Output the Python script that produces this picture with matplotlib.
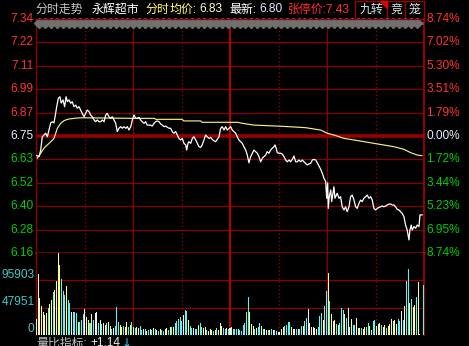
import numpy as np
import matplotlib
matplotlib.use("Agg")
import matplotlib.pyplot as plt
from matplotlib.patches import Rectangle, Polygon

plt.rcParams['font.family'] = ['Liberation Sans', 'Noto Sans CJK SC', 'DejaVu Sans']

# ---------------- data ----------------
prev_close = 6.75
price_labels = ["7.34", "7.22", "7.11", "6.99", "6.87", "6.75", "6.63", "6.52", "6.40", "6.28", "6.16"]
pct_labels = ["8.74%", "7.02%", "5.30%", "3.51%", "1.79%", "0.00%", "1.72%", "3.44%", "5.23%", "6.95%", "8.74%"]
vol_labels = ["95903", "47951", "0"]

price_t = [0.4, 1.9, 2.9, 3.9, 4.9, 6.0, 7.0, 8.0, 9.1, 10.1, 11.1, 11.8, 12.8, 13.8, 14.8, 15.6, 16.7, 17.7,
           18.6, 19.4, 20.4, 21.5, 22.4, 23.5, 24.6, 25.5, 26.6, 27.6, 28.6, 29.7, 30.7, 31.7, 32.8, 33.8,
           34.8, 35.9, 36.9, 37.9, 39.0, 40.0, 41.0, 42.1, 43.1, 44.1, 45.1, 46.2, 47.2, 48.2, 49.3, 50.3,
           51.3, 52.4, 53.4, 54.4, 55.5, 56.5, 57.5, 58.6, 59.6, 60.6, 61.7,
           62.6, 63.7, 64.7, 65.7, 66.8, 67.8, 68.8, 69.9, 70.9, 71.9, 73.0, 74.0, 75.0, 76.1, 77.1, 78.1,
           79.2, 80.2, 81.2, 82.3, 83.3, 84.3, 85.3, 86.4, 87.4, 88.4, 89.5, 90.5, 91.5, 92.6, 93.2, 94.0,
           94.6, 95.7, 96.7, 97.7, 98.8, 99.8, 100.8, 101.9, 102.8, 103.9, 104.9, 105.9, 107.0, 108.0,
           109.0, 110.1, 111.1, 112.1, 113.2, 114.2, 115.2, 116.3, 117.3, 118.3, 119.4, 120.4, 121.4,
           122.4, 123.5, 124.5,
           125.5, 126.6, 127.6, 128.6, 129.7, 130.7, 131.7, 132.8, 133.8, 134.8, 135.9, 136.9, 137.9,
           139.0, 140.0, 141.0, 142.1, 143.0, 144.1, 145.1, 146.1, 147.2, 147.8, 148.6, 149.2, 150.3,
           151.3, 152.3, 153.4, 154.4, 155.4, 156.5, 157.5, 158.5, 159.6, 160.6, 161.6, 162.6, 163.7,
           164.7, 165.7, 166.8, 167.8, 168.8, 169.9, 170.9, 171.9, 173.0, 174.0, 175.0, 176.1, 177.1,
           178.1, 179.2, 179.8, 180.4, 180.8, 181.4, 182.3, 182.9, 183.5, 184.3, 184.9, 185.5,
           186.3, 187.4, 188.4, 189.4, 190.5, 191.5, 192.5, 193.6, 194.6, 195.6, 196.7, 197.7, 198.7,
           199.8, 200.8, 201.8, 202.8, 203.9, 204.9, 205.9, 207.0, 208.0, 209.0, 210.1, 211.1, 212.1,
           213.2, 214.2, 215.2, 216.3, 217.3, 218.3, 219.4, 220.4, 221.4, 222.4, 223.4, 224.5, 225.5,
           226.5, 227.6, 228.6, 229.6, 230.7, 231.3, 232.1, 232.7, 233.8, 234.8, 235.8, 236.9, 237.5, 238.9]
price = [6.651, 6.646, 6.679, 6.746, 6.755, 6.764, 6.746, 6.780, 6.816, 6.822, 6.816, 6.847, 6.898, 6.940,
         6.948, 6.916, 6.932, 6.898, 6.948, 6.923, 6.932, 6.915, 6.923, 6.898, 6.906, 6.890, 6.898, 6.881,
         6.864, 6.847, 6.864, 6.881, 6.873, 6.856, 6.847, 6.831, 6.822, 6.831, 6.822, 6.822, 6.831, 6.822,
         6.856, 6.864, 6.847, 6.839, 6.847, 6.831, 6.814, 6.772, 6.789, 6.797, 6.789, 6.797, 6.789, 6.797,
         6.780, 6.797, 6.831, 6.856, 6.839,
         6.839, 6.844, 6.831, 6.822, 6.814, 6.822, 6.805, 6.805, 6.805, 6.800, 6.814, 6.822, 6.826, 6.822,
         6.811, 6.805, 6.797, 6.800, 6.794, 6.789, 6.789, 6.772, 6.764, 6.772, 6.755, 6.738, 6.730, 6.738,
         6.713, 6.705, 6.679, 6.713, 6.721, 6.713, 6.738, 6.746, 6.730, 6.713, 6.696, 6.693, 6.705, 6.730,
         6.755, 6.746, 6.738, 6.743, 6.733, 6.726, 6.721, 6.733, 6.746, 6.789, 6.797, 6.780, 6.797, 6.780,
         6.789, 6.797, 6.780, 6.772, 6.764, 6.746,
         6.730, 6.721, 6.713, 6.696, 6.679, 6.654, 6.615, 6.646, 6.663, 6.679, 6.671, 6.663, 6.646, 6.620,
         6.638, 6.646, 6.654, 6.671, 6.663, 6.679, 6.688, 6.696, 6.705, 6.688, 6.666, 6.663, 6.663, 6.659,
         6.646, 6.629, 6.620, 6.629, 6.620, 6.632, 6.649, 6.620, 6.620, 6.629, 6.620, 6.629, 6.620, 6.612,
         6.604, 6.609, 6.612, 6.629, 6.632, 6.629, 6.615, 6.599, 6.582, 6.562, 6.537, 6.520, 6.436, 6.514,
         6.385, 6.444, 6.478, 6.419, 6.452, 6.494, 6.436, 6.447,
         6.461, 6.436, 6.444, 6.393, 6.377, 6.393, 6.368, 6.393, 6.444, 6.452, 6.427, 6.393, 6.385, 6.411,
         6.427, 6.419, 6.436, 6.444, 6.452, 6.436, 6.444, 6.427, 6.385, 6.377, 6.385, 6.390, 6.393, 6.397,
         6.393, 6.397, 6.402, 6.407, 6.407, 6.402, 6.402, 6.393, 6.380, 6.377, 6.368, 6.360, 6.343, 6.301,
         6.276, 6.226, 6.276, 6.301, 6.276, 6.293, 6.285, 6.301, 6.293, 6.352, 6.352]

avg_t = [0.8, 2.9, 4.9, 7.0, 9.1, 11.1, 12.2, 13.2, 15.3, 17.3, 19.4, 21.5, 23.5, 27.6, 60.6, 73.0, 74.2,
         90.3, 91.5, 101.9, 102.7, 124.9, 127.6, 134.8, 149.2, 156.5, 166.8, 176.1, 180.1, 184.3, 190.5,
         196.7, 209.0, 221.4, 227.6, 231.7, 235.8, 238.7]
avg_price = [6.638, 6.663, 6.688, 6.705, 6.721, 6.738, 6.764, 6.789, 6.814, 6.827, 6.834, 6.837, 6.839,
             6.842, 6.839, 6.839, 6.834, 6.834, 6.826, 6.826, 6.819, 6.819, 6.814, 6.805, 6.800, 6.797,
             6.792, 6.780, 6.764, 6.755, 6.738, 6.730, 6.713, 6.696, 6.683, 6.666, 6.654, 6.651]

vol_am = [28400, 106600, 65700, 51500, 40800, 35500, 39100, 48000, 55100, 62200,
          74600, 78100, 94100, 143900, 122500, 97700, 76400, 71000, 85200, 62200,
          56800, 40800, 40800, 40800, 39100, 23100, 23100, 26600, 37300, 46200,
          32000, 26600, 21300, 37300, 26600, 39100, 40800, 21300, 26600, 19500,
          21300, 17800, 21300, 23100, 16000, 10700, 12400, 16000, 49700, 23100,
          17800, 14200, 16000, 14200, 23100, 14200, 17800, 23100, 14200, 12400,
          14200, 12400, 16000, 8900, 10700, 10700, 7100, 8900, 10700, 8900,
          12400, 10700, 8900, 7100, 10700, 8900, 7100, 10700, 12400, 8900,
          14200, 14200, 14200, 21300, 24900, 28400, 32000, 24900, 35500, 44400,
          42600, 26600, 16000, 12400, 12400, 10700, 10700, 17800, 21300, 14200,
          12400, 14200, 8900, 7100, 10700, 8900, 7100, 8900, 12400, 8900,
          21300, 16000, 12400, 10700, 12400, 10700]
dir_am = ("wwyyyyycyy" "cyyyycccyc" "cwcccycccw" "yycycwwcwc" "ywcywcwccc" "yycyycycyc"
          "ywccwcycwc" "ycwcyccwyc" "ycycccccwc" "cyccwccycc" "yycyywcycy" "ywccwc")
vol_pm = [12400, 14200, 10700, 10700, 10700, 10700, 8900, 7100, 17800, 21300,
          40800, 67500, 40800, 19500, 16000, 10700, 12400, 14200, 21300, 16000,
          10700, 10700, 8900, 8900, 8900, 10700, 8900, 8900, 7100, 5300,
          5300, 10700, 14200, 16000, 17800, 23100, 23100, 14200, 10700, 10700,
          10700, 10700, 10700, 16000, 16000, 24900, 30200, 46200, 21300, 14200,
          14200, 12400, 10700, 14200, 33700, 39100, 26600, 51500, 76400, 108300,
          60400, 37300, 24900, 26600, 19500, 17800, 21300, 48000, 44400, 37300,
          30200, 48000, 14200, 28400, 17800, 17800, 30200, 12400, 12400, 12400,
          10700, 14200, 14200, 21300, 16000, 8900, 24900, 26600, 16000, 19500,
          21300, 17800, 14200, 17800, 12400, 16000, 19500, 28400, 24900, 26600,
          19500, 28400, 24900, 42600, 26600, 51500, 94100, 115400, 56800, 63900,
          49700, 53300, 67500, 92400, 1800, 0, 87000]
dir_pm = ("wycccwcccc" "ccyyycwccy" "cwycycwccw" "wwyccccyyw" "cwccwccwwy" "wywcccyccy"
          "cywycycccy" "cwwyccwyyc" "wyccywccyy" "wcwycyywyy" "wccwcwccyc" "yycywwc")

# ---------------- figure ----------------
W, H = 469, 346
fig = plt.figure(figsize=(W / 100, H / 100), dpi=100, facecolor='black')

def fx(x):
    return x / W

def fy(y):
    return 1 - y / H

L, R = 36, 424
TOP, MID, BOT = 19, 253, 335
ax_p = fig.add_axes([fx(L), fy(MID), (R - L) / W, (MID - TOP) / H])
ax_v = fig.add_axes([fx(L), fy(BOT), (R - L) / W, (BOT - MID) / H])
for a in (ax_p, ax_v):
    a.set_facecolor('black')
    a.set_xlim(0, 240)
    a.set_xticks([])
    a.set_yticks([])
    for s in a.spines.values():
        s.set_visible(False)

GRID = '#8a0000'
RED = '#ff3333'
GREEN = '#00cc00'
FLAT = '#e6ecff'
CYAN = '#3cc8c8'

pmin, pmax = float(price_labels[-1]), float(price_labels[0])
ax_p.set_ylim(pmin, pmax)
levels = np.linspace(pmax, pmin, len(price_labels))
for lv in levels:
    if abs(lv - prev_close) < 1e-6:
        ax_p.axhline(lv, color='#960000', lw=2.6, zorder=1)
    elif abs(lv - pmin) < 1e-6:
        ax_p.axhline(lv, color=GRID, lw=2.0, zorder=1, clip_on=False)
    else:
        ax_p.axhline(lv, color=GRID, lw=0.9, zorder=1)

vmax = 3 * float(vol_labels[1])
ax_v.set_ylim(0, vmax)
for lab in vol_labels[:-1]:
    ax_v.axhline(float(lab), color=GRID, lw=0.9, zorder=1)

for a in (ax_p, ax_v):
    for m in (30, 90, 150, 210):
        a.axvline(m, color='#a00000', lw=0.9, ls=(0, (1, 2)), zorder=1)
    for m in (60, 180):
        a.axvline(m, color=GRID, lw=0.9, zorder=1)
    a.axvline(120, color='#b00000', lw=1.5, zorder=1)
    a.axvline(0, color=GRID, lw=1.0, zorder=1, clip_on=False)
    a.axvline(240, color='#b00000', lw=1.2, zorder=1, clip_on=False)

# lines
ax_p.plot(avg_t, avg_price, color='#f0f080', lw=0.85, zorder=3)
ax_p.plot(price_t, price, color='white', lw=0.9, zorder=4)

# volume bars
cmap = {'y': '#ffff84', 'c': '#58f8f8', 'w': '#f0f0f0'}
x_am = np.linspace(0.4, 119.0, len(vol_am))
x_pm = np.linspace(120.0, 239.5, len(vol_pm))
ax_v.bar(x_am, vol_am, width=0.62, color=[cmap[c] for c in dir_am], zorder=2)
ax_v.bar(x_pm, vol_pm, width=0.62, color=[cmap[c] for c in dir_pm], zorder=2)

# axis labels
FS = 8.6
for lv, lab, pl in zip(levels, price_labels, pct_labels):
    if abs(lv - prev_close) < 1e-6:
        col = FLAT
    elif lv > prev_close:
        col = RED
    else:
        col = GREEN
    ax_p.text(-0.006, lv, lab, transform=ax_p.get_yaxis_transform(), ha='right', va='center',
              color=col, fontsize=FS, clip_on=False)
    ax_p.text(1.006, lv, pl, transform=ax_p.get_yaxis_transform(), ha='left', va='center',
              color=col, fontsize=FS, clip_on=False)

for lab in vol_labels:
    v = float(lab)
    ax_v.annotate(lab, xy=(0, v), xycoords=ax_v.get_yaxis_transform(), xytext=(-1.5, 5.5),
                  textcoords='offset pixels', ha='right', va='center', color=CYAN, fontsize=FS,
                  annotation_clip=False)

# ---------------- overlay decorations ----------------
ov = fig.add_axes([0, 0, 1, 1], zorder=10)
ov.set_xlim(0, W)
ov.set_ylim(H, 0)
ov.axis('off')
ov.patch.set_alpha(0)

# diamond band
ov.plot([L + 1, R - 1], [23, 23], color='#6e6e6e', lw=2.2, solid_capstyle='butt')
ov.plot(np.arange(L + 3, R - 2, 5.9), np.full(len(np.arange(L + 3, R - 2, 5.9)), 23),
        ls='none', marker='D', ms=5.0, color='#707070', mec='#707070')
ov.plot([L, R], [TOP, TOP], color='#a00000', lw=0.9)

# header
HY = 9.5
HFS = 8.6
ov.text(36, HY, "分时走势", color='#c8c8c8', fontsize=HFS, va='center', ha='left')
ov.text(92, HY, "永辉超市", color='white', fontsize=HFS, va='center', ha='left')
ov.text(145, HY, "分时", color='#ffff66', fontsize=HFS, va='center', ha='left')
ov.text(170, HY, "均价:", color='#ffff66', fontsize=HFS, va='center', ha='left')
ov.text(199, HY, "6.83", color='#ffffc8', fontsize=HFS, va='center', ha='left')
ov.text(229, HY, "最新:", color='white', fontsize=HFS, va='center', ha='left')
ov.text(259, HY, "6.80", color=FLAT, fontsize=HFS, va='center', ha='left')
ov.text(288, HY, "张停价:7.43", color=RED, fontsize=HFS, va='center', ha='left')

for (x0, x1, t) in [(355, 387, "九转"), (387, 405, "竞"), (405, 424, "笼")]:
    ov.add_patch(Rectangle((x0, 0.5), x1 - x0, 18, fill=False, ec='#a00000', lw=0.9))
    ov.text((x0 + x1) / 2, HY, t, color='#e0e0e0', fontsize=HFS, va='center', ha='center')
ov.add_patch(Polygon([[380, 1], [386.5, 1], [386.5, 7.5]], closed=True, color='#e00000'))

# bottom text (partly cut off)
BY = 343.5
ov.text(36, BY, "量比指标:", color='#c0c0c0', fontsize=HFS, va='center', ha='left')
ov.text(90, BY, "+1.14", color='#e8e8e8', fontsize=HFS, va='center', ha='left')
ov.text(122, BY, "↓", color='#40d0ff', fontsize=HFS, va='center', ha='left',
        family=['DejaVu Sans'])

fig.savefig("out.png", dpi=100, facecolor='black')
